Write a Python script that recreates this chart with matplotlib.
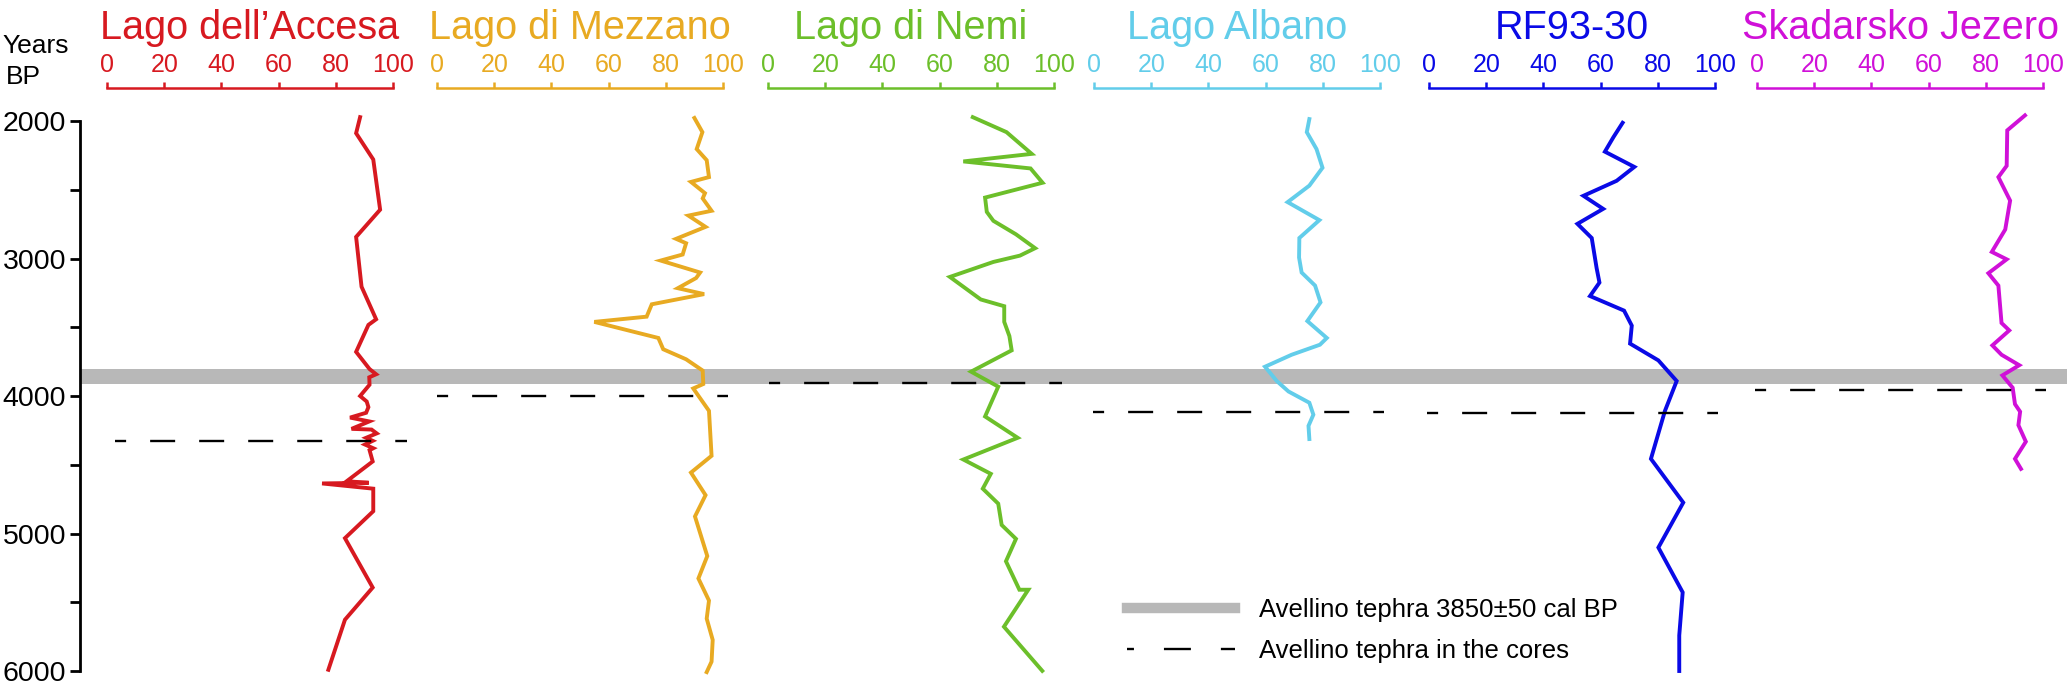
"""
花粉曲线图：六个湖泊/岩芯剖面与 Avellino 火山灰层
"""
import numpy as np
import matplotlib
matplotlib.use('Agg')
import matplotlib.pyplot as plt
from matplotlib.lines import Line2D

plt.rcParams['font.family'] = ['Liberation Sans', 'DejaVu Sans']
plt.rcParams['lines.scale_dashes'] = False

# 站点名称与颜色
sites = ['Lago dell\u2019Accesa', 'Lago di Mezzano', 'Lago di Nemi',
         'Lago Albano', 'RF93-30', 'Skadarsko Jezero']
colors = ['#D71920', '#E8AA22', '#6CBF2A', '#62CDEA', '#0A0AE6', '#D010D8']

# 各剖面数据（年龄 BP，百分比）
accesa_age = [1972, 2089, 2280, 2645, 2843, 3205, 3442, 3483, 3679, 3804, 3842, 3864,
              3918, 4000, 4040, 4081, 4122, 4157, 4185, 4239, 4244, 4272, 4304, 4326,
              4353, 4380, 4394, 4476, 4620, 4631, 4636, 4674, 4838, 5034, 5393, 5627, 5991]
accesa_val = [88.5, 87.1, 93.1, 95.5, 87.1, 89.0, 94.1, 91.4, 87.1, 91.8, 94.1, 91.7,
              91.8, 88.5, 90.8, 91.4, 90.6, 85.0, 91.7, 85.5, 92.5, 94.3, 90.6, 92.9,
              90.2, 93.1, 91.8, 92.9, 83.8, 91.5, 75.2, 93.1, 93.1, 83.2, 92.9, 83.2, 77.4]

mezzano_age = [1978, 2081, 2204, 2285, 2408, 2443, 2525, 2563, 2653, 2688, 2770, 2857,
               2889, 2971, 3015, 3102, 3142, 3216, 3259, 3333, 3423, 3461, 3578, 3660,
               3733, 3815, 3913, 3945, 4108, 4435, 4557, 4721, 4876, 5164, 5327, 5488,
               5619, 5774, 5932, 6008]
mezzano_val = [90.0, 92.8, 90.8, 94.3, 95.1, 88.8, 93.7, 92.9, 96.0, 87.9, 93.9, 83.6,
               87.1, 85.9, 78.2, 92.0, 90.6, 84.2, 93.4, 75.1, 73.3, 55.0, 77.4, 79.1,
               87.1, 92.9, 93.1, 89.6, 95.1, 96.0, 88.8, 93.9, 90.2, 94.5, 91.4, 95.1,
               94.3, 96.4, 96.0, 94.3]

nemi_age = [1972, 2081, 2239, 2294, 2345, 2449, 2557, 2661, 2726, 2824, 2925, 2979,
            3025, 3134, 3298, 3347, 3461, 3564, 3668, 3823, 3932, 4149, 4304, 4462,
            4566, 4674, 4783, 4938, 5039, 5202, 5409, 5409, 5678, 5999]
nemi_val = [71.6, 83.4, 92.2, 68.3, 91.8, 96.0, 75.9, 76.5, 78.8, 86.7, 93.4, 88.1,
            78.8, 63.6, 74.4, 82.6, 82.6, 84.4, 85.2, 71.0, 80.5, 75.9, 87.3, 68.3,
            77.9, 75.1, 80.5, 81.7, 86.7, 83.2, 87.9, 91.0, 82.5, 95.9]

albano_age = [1986, 2081, 2204, 2340, 2470, 2590, 2721, 2851, 2993, 3102, 3197, 3319,
              3455, 3578, 3627, 3700, 3787, 3891, 3967, 4049, 4136, 4217, 4313]
albano_val = [75.3, 74.4, 77.8, 79.9, 75.3, 67.7, 78.8, 71.8, 71.7, 72.6, 77.3, 79.2,
              74.6, 81.4, 79.0, 69.1, 59.8, 63.9, 68.0, 75.3, 76.7, 75.0, 75.3]

rf93_age = [2013, 2117, 2223, 2334, 2435, 2544, 2639, 2748, 2851, 3069, 3175, 3273,
            3379, 3488, 3619, 3741, 3891, 4108, 4457, 4775, 5102, 5428, 5741, 6000]
rf93_val = [67.7, 64.5, 61.5, 71.8, 65.6, 54.0, 60.9, 51.9, 56.9, 58.6, 59.6, 56.3,
            68.2, 70.9, 70.3, 80.2, 86.6, 82.5, 77.6, 88.9, 80.2, 88.7, 87.5, 87.5]

skadar_age = [1959, 2068, 2326, 2408, 2579, 2789, 2952, 3006, 3107, 3197, 3469, 3523,
              3632, 3700, 3776, 3850, 3940, 4059, 4114, 4212, 4332, 4457, 4530]
skadar_val = [93.7, 87.5, 87.3, 84.4, 88.5, 86.8, 82.1, 87.3, 80.9, 84.4, 85.5, 88.2,
              82.3, 85.5, 91.7, 85.8, 89.4, 90.2, 92.0, 91.4, 94.0, 90.2, 92.3]

ages = [accesa_age, mezzano_age, nemi_age, albano_age, rf93_age, skadar_age]
vals = [accesa_val, mezzano_val, nemi_val, albano_val, rf93_val, skadar_val]

# 岩芯中的火山灰层位置及虚线范围
tephra_age = [4330, 4000, 3905, 4115, 4120, 3955]
tephra_span = [(2.8, 104.9), (0, 101.7), (0.3, 102.8), (-0.3, 101.4), (-0.7, 101), (-0.7, 101)]
avellino_age = 3860
avellino_err = 55

age_ticks = [2000, 3000, 4000, 5000, 6000]
pct_ticks = [0, 20, 40, 60, 80, 100]

# 版面（像素）
W, H = 2067, 689
panel_x0 = [107, 437, 768, 1094, 1429, 1757]
panel_w = 286
y_top, y_bot = 121, 671

fig = plt.figure(figsize=(W / 100, H / 100), dpi=100)

# 底图：年龄轴与灰色火山灰带
ax0 = fig.add_axes([80 / W, 1 - y_bot / H, 1 - 80 / W, (y_bot - y_top) / H])
ax0.set_ylim(6000, 2000)
ax0.set_xlim(0, 1)
ax0.axhspan(avellino_age - avellino_err, avellino_age + avellino_err,
            color='#B8B8B8', lw=0)
ax0.set_yticks(age_ticks)
ax0.set_yticks([2500, 3500, 4500, 5500], minor=True)
ax0.set_xticks([])
for s in ['top', 'right', 'bottom']:
    ax0.spines[s].set_visible(False)
ax0.spines['left'].set_linewidth(2)
ax0.tick_params(axis='y', which='both', direction='out', length=7, width=2,
                labelsize=20.5, pad=3)
fig.text(2 / W, 1 - 46 / H, 'Years', fontsize=19, va='center', ha='left')
fig.text(6 / W, 1 - 77 / H, 'BP', fontsize=19, va='center', ha='left')

# 各剖面
for i in range(len(sites)):
    c = colors[i]
    ax = fig.add_axes([panel_x0[i] / W, 1 - y_bot / H, panel_w / W, (y_bot - y_top) / H])
    ax.patch.set_alpha(0)
    ax.set_xlim(0, 100)
    ax.set_ylim(6000, 2000)
    ax.plot(vals[i], ages[i], color=c, lw=2.8, clip_on=False, solid_joinstyle='miter')
    ax.plot(tephra_span[i], [tephra_age[i], tephra_age[i]], color='k', lw=1.7,
            linestyle=(10, (18, 17.3)), clip_on=False)
    ax.xaxis.tick_top()
    ax.set_xticks(pct_ticks)
    ax.set_yticks([])
    for s in ['left', 'right', 'bottom']:
        ax.spines[s].set_visible(False)
    ax.spines['top'].set_position(('outward', 24))
    ax.spines['top'].set_color(c)
    ax.spines['top'].set_linewidth(1.8)
    ax.tick_params(axis='x', direction='out', length=4.5, width=1.8, colors=c,
                   labelsize=18, pad=3)
    fig.text((panel_x0[i] + panel_w / 2) / W, 1 - 28 / H, sites[i], fontsize=28.5,
             color=c, ha='center', va='center')

# 图例
handles = [Line2D([], [], color='#B8B8B8', lw=7.5),
           Line2D([], [], color='k', lw=1.7, linestyle=(14.4, (19.4, 21.6)))]
labels = ['Avellino tephra 3850\u00b150 cal BP', 'Avellino tephra in the cores']
ax0.legend(handles, labels, loc='upper left', bbox_to_anchor=(1127 / W, 1 - 598 / H),
           bbox_transform=fig.transFigure, frameon=False, fontsize=18.5,
           handlelength=4.2, handletextpad=0.95, borderpad=0, borderaxespad=0,
           labelspacing=0.68)

fig.savefig('out.png', dpi=100)
